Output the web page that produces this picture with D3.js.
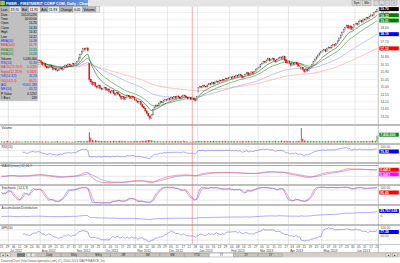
<!DOCTYPE html>
<html><head><meta charset="utf-8">
<script src="https://cdn.jsdelivr.net/npm/d3@7"></script>
<style>
html,body{margin:0;padding:0;background:#fff;}
svg{display:block;font-family:"Liberation Sans",Arial,sans-serif;}
</style></head><body><div id="chart"></div>
<script>
// Trading calendar
const firstDay = '2012-06-25';
const lastDay = '2013-06-21';
const holidays = ['2012-07-04', '2012-09-03', '2012-10-29', '2012-10-30', '2012-11-22',
  '2012-12-25', '2013-01-01', '2013-01-21', '2013-02-18', '2013-03-29', '2013-05-27'];

// Daily prices, one row per month (Jun 2012 .. Jun 2013)
const open = [
  16.02,16.10,16.05,16.22,16.25,
  16.48,16.42,16.30,16.25,16.12,16.20,16.05,15.98,16.10,16.25,16.30,16.38,16.22,16.15,16.30,16.45,16.52,16.60,16.48,16.55,16.62,
  16.58,16.50,16.35,16.40,16.25,16.15,16.20,16.30,16.18,16.05,16.10,16.02,15.98,16.08,16.15,16.05,16.22,16.30,16.25,16.38,16.32,16.28,16.40,
  16.35,16.40,16.55,16.75,16.95,17.15,17.30,17.25,17.35,16.40,15.45,15.30,15.15,15.25,15.05,14.95,15.10,14.92,14.85,
  14.90,14.95,14.80,14.88,14.72,14.65,14.78,14.60,14.52,14.68,14.55,14.45,14.30,14.40,14.25,14.35,14.48,14.40,14.30,14.42,14.35,
  14.22,14.15,14.05,14.10,13.95,13.80,13.72,13.55,13.40,13.25,13.10,13.30,13.62,13.78,13.90,13.85,14.02,14.10,14.05,14.18,14.25,
  14.20,14.30,14.22,14.35,14.28,14.40,14.32,14.45,14.38,14.30,14.42,14.50,14.45,14.38,14.28,14.35,14.26,14.30,14.22,14.18,
  14.70,14.95,15.02,14.98,15.10,15.05,15.00,15.12,15.20,15.15,15.25,15.18,15.30,15.35,15.28,15.40,15.36,15.45,15.40,15.52,15.48,
  15.55,15.60,15.52,15.65,15.58,15.70,15.62,15.75,15.68,15.55,15.62,15.78,15.85,15.72,15.80,15.90,15.82,15.95,16.05,
  16.12,16.20,16.35,16.42,16.55,16.48,16.62,16.70,16.58,16.65,16.72,16.60,16.52,16.68,16.75,16.80,16.72,16.85,16.62,16.45,
  16.55,16.40,16.30,16.42,16.35,16.48,16.38,16.25,16.08,16.18,16.05,15.92,16.08,15.98,16.12,16.20,16.35,16.52,16.68,16.80,16.92,17.05,
  17.12,17.18,17.25,17.15,17.32,17.40,17.35,17.48,17.55,17.50,17.62,17.78,17.95,18.12,18.30,18.45,18.60,18.72,18.55,18.68,18.48,18.60,
  18.75,18.85,18.78,18.95,19.02,18.92,19.10,19.05,19.18,19.12,19.25,19.35,19.30,19.48,19.52
];
const high = [
  16.18,16.15,16.30,16.28,16.55,
  16.56,16.45,16.38,16.30,16.28,16.24,16.10,16.15,16.32,16.38,16.45,16.40,16.28,16.36,16.52,16.60,16.68,16.64,16.62,16.70,16.68,
  16.62,16.54,16.48,16.44,16.30,16.28,16.38,16.34,16.22,16.18,16.14,16.08,16.14,16.22,16.18,16.28,16.36,16.34,16.44,16.42,16.36,16.46,16.44,
  16.48,16.62,16.82,17.02,17.22,17.38,17.36,17.42,17.40,16.45,15.52,15.36,15.32,15.28,15.10,15.16,15.14,14.98,14.96,
  15.02,14.98,14.94,14.90,14.76,14.84,14.80,14.64,14.74,14.70,14.58,14.48,14.46,14.42,14.40,14.54,14.50,14.44,14.48,14.45,14.38,
  14.26,14.20,14.16,14.12,13.98,13.84,13.75,13.58,13.44,13.28,13.36,13.68,13.84,13.96,13.94,14.08,14.16,14.14,14.24,14.30,14.28,
  14.36,14.34,14.40,14.38,14.46,14.44,14.50,14.48,14.42,14.48,14.56,14.54,14.48,14.42,14.40,14.38,14.32,14.34,14.26,14.45,
  15.00,15.08,15.06,15.16,15.14,15.08,15.18,15.26,15.24,15.32,15.28,15.36,15.42,15.38,15.46,15.44,15.52,15.48,15.58,15.56,15.62,
  15.68,15.64,15.72,15.68,15.76,15.74,15.82,15.78,15.70,15.68,15.84,15.92,15.88,15.86,15.96,15.94,16.00,16.10,16.18,
  16.26,16.40,16.48,16.60,16.58,16.68,16.76,16.74,16.70,16.78,16.75,16.64,16.72,16.80,16.86,16.84,16.92,16.88,16.66,16.60,
  16.58,16.44,16.48,16.46,16.54,16.52,16.40,16.38,16.30,16.22,16.08,16.14,16.10,16.18,16.26,16.40,16.58,16.74,16.86,16.98,17.10,17.18,
  17.24,17.32,17.28,17.38,17.46,17.44,17.54,17.62,17.58,17.68,17.84,18.02,18.18,18.36,18.52,18.66,18.78,18.76,18.74,18.70,18.66,18.82,
  18.92,18.88,19.00,19.08,19.06,19.16,19.14,19.24,19.22,19.30,19.42,19.38,19.54,19.60,19.72
];
const low = [
  15.95,15.98,16.00,16.08,16.20,
  16.35,16.22,16.18,16.05,16.08,16.00,15.90,15.94,16.05,16.18,16.25,16.15,16.08,16.10,16.26,16.40,16.46,16.40,16.44,16.50,16.50,
  16.42,16.28,16.30,16.18,16.08,16.10,16.16,16.12,15.98,16.00,15.95,15.90,15.94,16.04,15.98,16.02,16.18,16.18,16.22,16.26,16.20,16.24,16.28,
  16.30,16.36,16.50,16.70,16.90,17.10,17.15,17.20,17.10,15.30,15.20,15.05,15.10,14.98,14.88,14.90,14.86,14.78,14.80,
  14.85,14.74,14.76,14.66,14.58,14.60,14.55,14.45,14.48,14.50,14.38,14.22,14.26,14.18,14.20,14.30,14.34,14.24,14.26,14.28,14.15,
  14.08,13.98,14.00,13.88,13.72,13.65,13.48,13.32,13.15,12.98,13.05,13.26,13.58,13.72,13.78,13.80,13.98,13.98,14.00,14.14,14.12,
  14.16,14.16,14.18,14.22,14.24,14.26,14.28,14.32,14.24,14.26,14.38,14.40,14.32,14.22,14.24,14.20,14.22,14.16,14.10,14.14,
  14.66,14.90,14.90,14.94,14.98,14.92,14.96,15.08,15.08,15.12,15.12,15.14,15.26,15.22,15.24,15.30,15.32,15.34,15.36,15.42,15.44,
  15.50,15.46,15.48,15.52,15.54,15.56,15.58,15.62,15.48,15.50,15.58,15.74,15.66,15.68,15.76,15.76,15.78,15.90,16.00,
  16.08,16.16,16.30,16.38,16.42,16.44,16.58,16.52,16.54,16.60,16.55,16.46,16.48,16.64,16.70,16.66,16.68,16.56,16.38,16.40,
  16.34,16.24,16.26,16.28,16.30,16.32,16.18,16.20,16.02,15.98,15.82,15.88,15.90,15.94,16.08,16.16,16.30,16.48,16.62,16.76,16.88,17.00,
  17.06,17.14,17.08,17.10,17.28,17.28,17.30,17.44,17.42,17.46,17.58,17.74,17.90,18.08,18.26,18.40,18.56,18.48,18.50,18.42,18.44,18.56,
  18.70,18.70,18.74,18.90,18.86,18.88,18.98,19.00,19.06,19.08,19.20,19.24,19.26,19.44,19.51
];
const close = [
  16.10,16.05,16.22,16.15,16.48,
  16.42,16.30,16.25,16.12,16.20,16.05,15.98,16.10,16.25,16.30,16.38,16.22,16.15,16.30,16.45,16.52,16.60,16.48,16.55,16.62,16.58,
  16.50,16.35,16.40,16.25,16.15,16.20,16.30,16.18,16.05,16.10,16.02,15.98,16.08,16.15,16.05,16.22,16.30,16.25,16.38,16.32,16.28,16.40,16.35,
  16.40,16.55,16.75,16.95,17.15,17.30,17.25,17.35,17.20,15.45,15.30,15.15,15.25,15.05,14.95,15.10,14.92,14.85,14.90,
  14.95,14.80,14.88,14.72,14.65,14.78,14.60,14.52,14.68,14.55,14.45,14.30,14.40,14.25,14.35,14.48,14.40,14.30,14.42,14.35,14.22,
  14.15,14.05,14.10,13.95,13.80,13.72,13.55,13.40,13.25,13.10,13.30,13.62,13.78,13.90,13.85,14.02,14.10,14.05,14.18,14.25,14.20,
  14.30,14.22,14.35,14.28,14.40,14.32,14.45,14.38,14.30,14.42,14.50,14.45,14.38,14.28,14.35,14.25,14.30,14.22,14.18,14.40,
  14.95,15.02,14.98,15.10,15.05,15.00,15.12,15.20,15.15,15.25,15.18,15.30,15.35,15.28,15.40,15.36,15.45,15.40,15.52,15.48,15.55,
  15.60,15.52,15.65,15.58,15.70,15.62,15.75,15.68,15.55,15.62,15.78,15.85,15.72,15.80,15.90,15.82,15.95,16.05,16.12,
  16.20,16.35,16.42,16.55,16.48,16.62,16.70,16.58,16.65,16.72,16.60,16.52,16.68,16.75,16.80,16.72,16.85,16.62,16.45,16.55,
  16.40,16.30,16.42,16.35,16.48,16.38,16.25,16.32,16.18,16.05,15.92,16.08,15.98,16.12,16.20,16.35,16.52,16.68,16.80,16.92,17.05,17.12,
  17.18,17.25,17.15,17.32,17.40,17.35,17.48,17.55,17.50,17.62,17.78,17.95,18.12,18.30,18.45,18.60,18.72,18.55,18.68,18.48,18.60,18.75,
  18.85,18.78,18.95,19.02,18.92,19.10,19.05,19.18,19.12,19.25,19.35,19.30,19.48,19.55,19.70
];
// Volume in thousands of shares
const volume = [
  1250,980,1120,1340,1860,
  1050,890,760,1010,920,1150,1280,970,1090,880,1020,1310,1170,940,1230,1080,1390,1150,990,1270,1060,
  1120,1240,880,1050,1330,960,840,1010,1180,900,1270,1410,1060,930,1150,1220,870,990,1100,820,760,1040,950,
  1180,1320,1560,1740,1620,1480,1390,1510,1870,11200,5200,2800,2150,2420,1960,1680,1820,1540,1710,
  1450,1620,1380,1290,1540,1230,1670,1480,1350,1590,1720,1860,1410,1640,1280,1370,1190,1460,1320,1250,1580,
  1490,1620,1340,1780,1930,1650,2080,2260,2450,2610,2180,1970,1580,1420,1260,1390,1180,1050,1310,1240,1160,
  1380,1270,1450,1190,1320,1560,1410,1280,1650,1340,2120,1460,1290,980,760,890,1030,1150,1240,1480,
  1870,1640,1420,1310,1550,1280,1460,1390,1620,1350,1740,1480,1260,1530,1410,1290,1670,1380,1520,1440,1330,
  1410,1280,1560,1340,1220,1470,1380,1190,1630,1450,1320,1540,1690,1270,1380,1160,1420,1580,1310,
  1290,1460,1380,1520,1240,1350,1610,1430,1280,1190,1370,1540,1260,1480,1320,2150,1390,1640,1870,1450,
  1520,1380,1290,1460,1210,1340,1680,1570,15800,4200,2240,1860,1650,1480,1390,1520,1730,1610,1440,1360,1580,1420,
  1340,1480,1260,1390,1520,1180,1430,1570,1290,1460,1680,1840,1720,1910,1650,1780,1590,1420,1360,1530,1280,1470,
  1390,1260,1510,1340,1680,1450,1290,1570,1380,1430,1620,1870,1540,1720,7400
];
const priceTicks = [13.20, 13.65, 14.10, 14.55, 15.00, 15.45, 15.90, 16.35, 16.80, 17.25, 17.70, 18.15, 18.60, 19.05, 19.50];
const cursorIndex = 126;
const pValue = '0.5252';

const title = 'FMER - FIRSTMERIT CORP COM, Daily - Chart';
const quoteCells = [['Last', '19.70'], ['Bid', '11.91'], ['Ask', '11.93'], ['Change', '0.05'], ['Volume', '']];
const rangeTabs = ['Daily', 'Wkly', 'Mthly', '1M', '3M', '6M', 'YTD', '1Y', '2Y', '5Y'];
const footer = 'DrawingChart (http://www.openebiz.com) (C) 2000-2013 WAYFINANCE, Inc.';

// ---- dates ----
const parse = d3.timeParse('%Y-%m-%d');
const fmtDay = d3.timeFormat('%Y-%m-%d');
const dates = d3.timeDay.range(parse(firstDay), d3.timeDay.offset(parse(lastDay), 1))
  .filter(d => d.getDay() !== 0 && d.getDay() !== 6 && !holidays.includes(fmtDay(d)));
const N = Math.min(dates.length, close.length);
const idx = d3.range(N);

// ---- indicators ----
const ema = (a, n) => {
  const k = 2 / (n + 1), out = [];
  a.forEach((v, i) => out.push(i ? out[i - 1] + k * (v - out[i - 1]) : v));
  return out;
};
const sma = (a, n) => a.map((v, i) => v == null ? null : d3.mean(a.slice(Math.max(0, i - n + 1), i + 1)));
const ema10 = ema(close, 10), ema20 = ema(close, 20), ema50 = ema(close, 50), ema100 = ema(close, 100);
const ema12 = ema(close, 12), ema26 = ema(close, 26);
const macd = close.map((c, i) => ema12[i] - ema26[i]);
const signal = ema(macd, 9);

const rsi = [null];
(function() {
  let ag = 0, al = 0;
  for (let i = 1; i < N; i++) {
    const d = close[i] - close[i - 1];
    const g = Math.max(d, 0), l = Math.max(-d, 0);
    if (i <= 14) { ag += g / 14; al += l / 14; }
    else { ag = (ag * 13 + g) / 14; al = (al * 13 + l) / 14; }
    rsi.push(i < 14 ? null : (al === 0 ? 100 : 100 - 100 / (1 + ag / al)));
  }
})();

const rawK = idx.map(i => {
  const s = Math.max(0, i - 13);
  const hh = d3.max(high.slice(s, i + 1)), ll = d3.min(low.slice(s, i + 1));
  return hh === ll ? 50 : (close[i] - ll) / (hh - ll) * 100;
});
const stochK = sma(rawK, 3), stochD = sma(stochK, 3);

let acc = 0;
const ad = idx.map(i => {
  const r = high[i] - low[i];
  const clv = r ? ((close[i] - low[i]) - (high[i] - close[i])) / r : 0;
  acc += clv * volume[i] * 1000;
  return acc;
});

const tp = idx.map(i => (high[i] + low[i] + close[i]) / 3);
const mfi = idx.map(i => {
  if (i < 14) return null;
  let pos = 0, neg = 0;
  for (let j = i - 13; j <= i; j++) {
    const f = tp[j] * volume[j];
    if (tp[j] > tp[j - 1]) pos += f; else if (tp[j] < tp[j - 1]) neg += f;
  }
  return neg === 0 ? 100 : 100 - 100 / (1 + pos / neg);
});

// ---- layout ----
const W = 400, H = 263, plotR = 378;
const mainTop = 6.5, mainBottom = 124;
const panels = {
  vol:   {top: 126, bottom: 143, title: 'Volume'},
  rsi:   {top: 145, bottom: 162, title: 'RSI(14)'},
  macd:  {top: 164, bottom: 184, title: 'MACD(close) 12,26,9'},
  stoch: {top: 186, bottom: 204, title: 'Stochastic (14,3,3)'},
  ad:    {top: 206, bottom: 224, title: 'Accumulation/Distribution'},
  mfi:   {top: 226, bottom: 244, title: 'MFI(14)'}
};

const svg = d3.select('#chart').append('svg').attr('width', W).attr('height', H);
svg.append('rect').attr('width', W).attr('height', H).attr('fill', '#fff');
const defs = svg.append('defs');

const x = d3.scaleLinear().domain([0, N - 1]).range([1.5, 377]);
const y = d3.scaleLinear().domain([13.2, 19.5]).range([116.7, 12.4]);

const monthStarts = idx.filter(i => i > 0 && dates[i].getMonth() !== dates[i - 1].getMonth());

// clip paths
function clip(id, y0, y1) {
  defs.append('clipPath').attr('id', id).append('rect')
    .attr('x', 0).attr('y', y0).attr('width', plotR).attr('height', y1 - y0);
  return `url(#${id})`;
}

// ---- main price panel ----
const main = svg.append('g').attr('clip-path', clip('c-main', mainTop, mainBottom));
main.selectAll('line.h').data(priceTicks).enter().append('line')
  .attr('x1', 0).attr('x2', plotR).attr('y1', d => y(d)).attr('y2', d => y(d))
  .attr('stroke', '#e2e2e2').attr('stroke-width', 0.5);

// vertical month grid across all panels
svg.append('g').selectAll('line').data(monthStarts).enter().append('line')
  .attr('x1', d => x(d) - 0.75).attr('x2', d => x(d) - 0.75)
  .attr('y1', mainTop).attr('y2', 244)
  .attr('stroke', '#d4d4d4').attr('stroke-width', 0.6);

const lineOf = (arr, sy) => d3.line().defined(i => arr[i] != null).x(i => x(i)).y(i => sy(arr[i]))(idx);

[[ema100, '#ff9a9a'], [ema50, '#9a9aff'], [ema20, '#2f8f2f'], [ema10, '#0a6a0a']].forEach(([a, c]) => {
  main.append('path').attr('d', lineOf(a, y)).attr('fill', 'none').attr('stroke', c).attr('stroke-width', 0.6);
});

const candles = main.append('g').selectAll('g').data(idx).enter().append('g');
candles.append('line')
  .attr('x1', i => x(i)).attr('x2', i => x(i))
  .attr('y1', i => y(high[i])).attr('y2', i => y(low[i]))
  .attr('stroke', i => close[i] >= open[i] ? '#555' : '#c00').attr('stroke-width', 0.4);
candles.append('rect')
  .attr('x', i => x(i) - 0.55).attr('width', 1.1)
  .attr('y', i => y(Math.max(open[i], close[i])))
  .attr('height', i => Math.max(0.4, Math.abs(y(open[i]) - y(close[i]))))
  .attr('fill', i => close[i] >= open[i] ? '#d4d4d4' : '#ee1111')
  .attr('stroke', i => close[i] >= open[i] ? '#666' : '#dd0000').attr('stroke-width', 0.3);

// ---- lower panels ----
function panelFrame(p) {
  svg.append('rect').attr('x', 0).attr('y', p.top - 2).attr('width', W).attr('height', 2).attr('fill', '#b4b4b4');
  svg.append('line').attr('x1', 0).attr('x2', W).attr('y1', p.top - 1).attr('y2', p.top - 1)
    .attr('stroke', '#dcdcdc').attr('stroke-width', 0.5);
  svg.append('text').attr('x', 1.5).attr('y', p.top + 3.4).text(p.title)
    .attr('font-size', 3.2).attr('fill', '#333');
}
Object.values(panels).forEach(panelFrame);

function refLines(p, sy, levels) {
  svg.append('g').selectAll('line').data(levels).enter().append('line')
    .attr('x1', 0).attr('x2', plotR).attr('y1', d => sy(d)).attr('y2', d => sy(d))
    .attr('stroke', '#cfcfcf').attr('stroke-width', 0.5);
}

// volume
const pv = panels.vol;
const yVol = d3.scaleLinear().domain([0, d3.max(volume)]).range([pv.bottom - 0.5, pv.top + 2]);
svg.append('g').attr('clip-path', clip('c-vol', pv.top, pv.bottom)).selectAll('rect').data(idx).enter().append('rect')
  .attr('x', i => x(i) - 0.45).attr('width', 0.9)
  .attr('y', i => yVol(volume[i])).attr('height', i => yVol(0) - yVol(volume[i]))
  .attr('fill', i => close[i] >= open[i] ? '#1a9a1a' : '#e01010');

// RSI
const pr = panels.rsi;
const yRsi = d3.scaleLinear().domain([0, 100]).range([pr.bottom - 0.5, pr.top + 0.5]);
refLines(pr, yRsi, [70, 30]);
svg.append('path').attr('clip-path', clip('c-rsi', pr.top, pr.bottom)).attr('d', lineOf(rsi, yRsi))
  .attr('fill', 'none').attr('stroke', '#7070ff').attr('stroke-width', 0.6);

// MACD
const pm = panels.macd;
const mExt = d3.extent(macd.concat(signal).slice(20));
const yMacd = d3.scaleLinear().domain([mExt[0] - 0.05, mExt[1] + 0.05]).range([pm.bottom - 0.5, pm.top + 4]);
refLines(pm, yMacd, [0]);
const gM = svg.append('g').attr('clip-path', clip('c-macd', pm.top, pm.bottom));
gM.append('path').attr('d', lineOf(signal, yMacd)).attr('fill', 'none').attr('stroke', '#7a7aff').attr('stroke-width', 0.6);
gM.append('path').attr('d', lineOf(macd, yMacd)).attr('fill', 'none').attr('stroke', '#ff5a5a').attr('stroke-width', 0.6);

// Stochastic
const ps = panels.stoch;
const yStoch = d3.scaleLinear().domain([0, 100]).range([ps.bottom - 0.5, ps.top + 0.5]);
refLines(ps, yStoch, [80, 20]);
const gS = svg.append('g').attr('clip-path', clip('c-stoch', ps.top, ps.bottom));
gS.append('path').attr('d', lineOf(stochD, yStoch)).attr('fill', 'none').attr('stroke', '#ff6060').attr('stroke-width', 0.6);
gS.append('path').attr('d', lineOf(stochK, yStoch)).attr('fill', 'none').attr('stroke', '#7070ff').attr('stroke-width', 0.6);

// A/D
const pa = panels.ad;
const adExt = d3.extent(ad);
const yAd = d3.scaleLinear().domain([adExt[0] - (adExt[1] - adExt[0]) * 0.4, adExt[1]]).range([pa.bottom - 1, pa.top + 5]);
svg.append('path').attr('clip-path', clip('c-ad', pa.top, pa.bottom)).attr('d', lineOf(ad, yAd))
  .attr('fill', 'none').attr('stroke', '#7070ff').attr('stroke-width', 0.6);

// MFI
const pf = panels.mfi;
const yMfi = d3.scaleLinear().domain([0, 100]).range([pf.bottom - 0.5, pf.top + 0.5]);
refLines(pf, yMfi, [80, 20]);
svg.append('path').attr('clip-path', clip('c-mfi', pf.top, pf.bottom)).attr('d', lineOf(mfi, yMfi))
  .attr('fill', 'none').attr('stroke', '#7070ff').attr('stroke-width', 0.6);

// cursor crosshair
svg.append('line').attr('x1', x(cursorIndex)).attr('x2', x(cursorIndex)).attr('y1', mainTop).attr('y2', 244)
  .attr('stroke', '#ff5050').attr('stroke-width', 0.5);
svg.append('line').attr('x1', 0).attr('x2', plotR).attr('y1', 165.5).attr('y2', 165.5)
  .attr('stroke', '#ff3030').attr('stroke-width', 0.6);

// ---- right axis ----
svg.append('line').attr('x1', plotR + 0.3).attr('x2', plotR + 0.3).attr('y1', mainTop).attr('y2', 253)
  .attr('stroke', '#9a9a9a').attr('stroke-width', 0.6);
svg.append('g').selectAll('text').data(priceTicks).enter().append('text')
  .attr('x', 380.5).attr('y', d => y(d) + 1.2).text(d => d.toFixed(2))
  .attr('font-size', 3.3).attr('fill', '#555');

const fmt2 = d3.format('.2f'), fmt4 = d3.format('.4f'), fmtInt = d3.format(',d');
function tag(yy, color, text, fg) {
  const g = svg.append('g');
  g.append('rect').attr('x', 379.3).attr('y', yy - 2).attr('width', 19.5).attr('height', 4).attr('fill', color);
  g.append('text').attr('x', 380.2).attr('y', yy + 1.3).text(text)
    .attr('font-size', 3.4).attr('font-weight', 'bold').attr('fill', fg || '#fff');
}
function plain(yy, text) {
  svg.append('text').attr('x', 380.5).attr('y', yy + 1.2).text(text).attr('font-size', 3.2).attr('fill', '#555');
}
// price tags, stacked so they do not overlap
const L = N - 1;
const priceTags = [[close[L], '#000'], [ema10[L], '#008000'], [ema20[L], '#008000'], [ema50[L], '#0000ff'], [ema100[L], '#ff0000']]
  .map(([v, c]) => ({v, c, yy: y(v)})).sort((a, b) => a.yy - b.yy);
priceTags.forEach((t, i) => { if (i && t.yy < priceTags[i - 1].yy + 4.6) t.yy = priceTags[i - 1].yy + 4.6; });
priceTags.forEach(t => tag(t.yy, t.c, fmt2(t.v)));

tag(yVol(volume[L]) - 1, '#118811', fmtInt(volume[L] * 1000));
plain(pr.top + 2.2, '100.00');
tag(Math.max(yRsi(rsi[L]), pr.top + 6.5), '#0000ff', fmt2(rsi[L]));
const ym1 = yMacd(macd[L]), ym2 = Math.max(yMacd(signal[L]), ym1 + 4.6);
tag(ym1, '#ff0000', fmt4(macd[L]));
tag(ym2, '#ff00ff', fmt4(signal[L]));
plain(ps.top + 2.2, '100.00');
tag(Math.max(yStoch(stochK[L]), ps.top + 6.5), '#ff0000', fmt2(stochK[L]));
tag(pa.top + 5, '#0000ff', fmtInt(Math.round(ad[L])));
plain(pa.top + 10, '0');
plain(pf.top + 1.5, '100.00');
tag(Math.max(yMfi(mfi[L]), pf.top + 6), '#0000ff', fmt2(mfi[L]));
plain(pf.top + 10, '50.00');

// ---- date axis ----
svg.append('rect').attr('x', 0).attr('y', 244).attr('width', W).attr('height', 0.6).attr('fill', '#a0a0a0');
const dayTicks = idx.filter(i => i % 4 === 0);
svg.append('g').selectAll('text').data(dayTicks).enter().append('text')
  .attr('x', i => x(i)).attr('y', 247.8).attr('text-anchor', 'middle')
  .text(i => d3.timeFormat('%d')(dates[i])).attr('font-size', 3.1).attr('fill', '#444');
svg.append('g').selectAll('text').data(monthStarts).enter().append('text')
  .attr('x', i => x(i) + 1).attr('y', 251.6)
  .text(i => d3.timeFormat('%b %Y')(dates[i])).attr('font-size', 3.2).attr('fill', '#444');

// ---- scroll / range bar ----
svg.append('rect').attr('x', 0).attr('y', 252.6).attr('width', W).attr('height', 4.8).attr('fill', '#d4d0c8');
svg.append('line').attr('x1', 0).attr('x2', W).attr('y1', 252.6).attr('y2', 252.6).attr('stroke', '#888').attr('stroke-width', 0.4);
[[0.5, '◄'], [5.5, '►'], [386, '◄'], [392.5, '►']].forEach(([bx, s]) => {
  svg.append('rect').attr('x', bx).attr('y', 253.1).attr('width', 4.6).attr('height', 3.8)
    .attr('fill', '#ece9e0').attr('stroke', '#777').attr('stroke-width', 0.3);
  svg.append('text').attr('x', bx + 2.3).attr('y', 256.2).attr('text-anchor', 'middle').text(s)
    .attr('font-size', 2.6).attr('fill', '#000');
});
svg.append('rect').attr('x', 17).attr('y', 253.1).attr('width', 8).attr('height', 3.8).attr('fill', '#7a7a7a');
svg.append('rect').attr('x', 27).attr('y', 253.1).attr('width', 3.5).attr('height', 3.8).attr('fill', '#ece9e0').attr('stroke', '#777').attr('stroke-width', 0.3);
svg.append('rect').attr('x', 31.5).attr('y', 253.1).attr('width', 3.5).attr('height', 3.8).attr('fill', '#ece9e0').attr('stroke', '#777').attr('stroke-width', 0.3);
const tabW = (283 - 37) / rangeTabs.length;
rangeTabs.forEach((t, i) => {
  const tx = 37 + i * tabW;
  svg.append('rect').attr('x', tx).attr('y', 253.1).attr('width', tabW - 0.6).attr('height', 3.8)
    .attr('fill', t === '1Y' ? '#ffffff' : '#c8c4bc').attr('stroke', '#888').attr('stroke-width', 0.3);
  svg.append('text').attr('x', tx + tabW / 2).attr('y', 256.2).attr('text-anchor', 'middle').text(t)
    .attr('font-size', 2.8).attr('fill', '#222');
});
svg.append('text').attr('x', 1).attr('y', 261.8).text(footer).attr('font-size', 3.1).attr('fill', '#666');

// ---- title bar and quote strip ----
const grad = defs.append('linearGradient').attr('id', 'tbar');
grad.append('stop').attr('offset', '0%').attr('stop-color', '#0a3c9a');
grad.append('stop').attr('offset', '100%').attr('stop-color', '#6c98dc');
svg.append('rect').attr('x', 0).attr('y', 0).attr('width', W).attr('height', 6.5).attr('fill', '#e4e4e4');
svg.append('rect').attr('x', 0).attr('y', 0).attr('width', 88).attr('height', 6.5).attr('fill', 'url(#tbar)');
svg.append('rect').attr('x', 0.6).attr('y', 1).attr('width', 4).attr('height', 4).attr('fill', '#9acd32').attr('stroke', '#e8c000').attr('stroke-width', 0.4);
svg.append('text').attr('x', 6).attr('y', 4.9).text(title).attr('font-size', 3.8).attr('font-weight', 'bold').attr('fill', '#fff');
[[352, 9, 'Sym'], [362.5, 8.5, 'Mkt'], [374, 4.5, ''], [379.5, 4.5, '_'], [385, 4.5, '□'], [391, 6, '×']].forEach(([bx, bw, s]) => {
  svg.append('rect').attr('x', bx).attr('y', 0.8).attr('width', bw).attr('height', 4.8)
    .attr('fill', '#d8d8d8').attr('stroke', '#7a7a7a').attr('stroke-width', 0.3);
  svg.append('text').attr('x', bx + bw / 2).attr('y', 4.4).attr('text-anchor', 'middle').text(s)
    .attr('font-size', 3).attr('fill', '#111');
});

let qx = 0;
quoteCells.forEach(([label, val]) => {
  const lw = label.length * 1.9 + 2, vw = val ? val.length * 1.9 + 2 : 4;
  svg.append('rect').attr('x', qx).attr('y', 6.5).attr('width', lw).attr('height', 5.6).attr('fill', '#b8b8b8').attr('stroke', '#888').attr('stroke-width', 0.3);
  svg.append('text').attr('x', qx + 1).attr('y', 10.6).text(label).attr('font-size', 3.3).attr('fill', '#000');
  svg.append('rect').attr('x', qx + lw).attr('y', 6.5).attr('width', vw).attr('height', 5.6).attr('fill', '#e6e6e6').attr('stroke', '#888').attr('stroke-width', 0.3);
  svg.append('text').attr('x', qx + lw + 1).attr('y', 10.6).text(val).attr('font-size', 3.3).attr('fill', '#000');
  qx += lw + vw;
});

// ---- info panel (values under the cursor) ----
const c = cursorIndex;
const infoRows = [
  ['Date', d3.timeFormat('%Y/%m/%d')(dates[c]), '#000'],
  ['Time', '00:00:00', '#000'],
  ['Open', fmt2(open[c]), '#000'],
  ['Close', fmt2(close[c]), '#000'],
  ['High', fmt2(high[c]), '#000'],
  ['Low', fmt2(low[c]), '#000'],
  ['EMA(50)', fmt2(ema50[c]), '#2020ff'],
  ['EMA(100)', fmt2(ema100[c]), '#ff2020'],
  ['EMA(10)', fmt2(ema10[c]), '#008000'],
  ['EMA(20)', fmt2(ema20[c]), '#008000'],
  ['Volume', fmtInt(volume[c] * 1000), '#000'],
  ['RSI(14)', fmt2(rsi[c]), '#2020ff'],
  ['MACD(12,26,9)', fmt4(macd[c]), '#ff2020'],
  ['Signal(12,26,9)', fmt4(signal[c]), '#ff2020'],
  ['%K(14,3,3)', fmt2(stochK[c]), '#2020ff'],
  ['%D(14,3,3)', fmt2(stochD[c]), '#ff2020'],
  ['A/D', fmtInt(Math.round(ad[c])), '#2020ff'],
  ['MFI(14)', fmt2(mfi[c]), '#2020ff'],
  ['P-Value', pValue, '#000'],
  ['# Bars', String(N), '#000']
];
svg.append('rect').attr('x', 0).attr('y', 12.1).attr('width', 37.5).attr('height', 88.5)
  .attr('fill', '#c0c0c0').attr('stroke', '#999').attr('stroke-width', 0.3);
const info = svg.append('g').selectAll('g').data(infoRows).enter().append('g')
  .attr('transform', (d, i) => `translate(0, ${15.6 + i * 4.4})`);
info.append('text').attr('x', 1).text(d => d[0]).attr('font-size', 3.1).attr('fill', d => d[2]);
info.append('text').attr('x', 36.8).attr('text-anchor', 'end').text(d => d[1]).attr('font-size', 3.1).attr('fill', d => d[2]);
</script>
</body></html>
